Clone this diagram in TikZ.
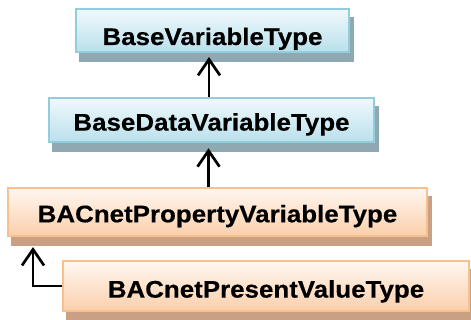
\documentclass[tikz,border=0pt]{standalone}
\usepackage{fontspec}
\setmainfont{Liberation Sans}
\newfontfamily\typefont[FakeStretch=1.08,FakeBold=0.4]{Liberation Sans Bold}
\usetikzlibrary{arrows.meta,calc,backgrounds}

\definecolor{blueEdge}{HTML}{93CDDD}
\definecolor{blueTop}{HTML}{F0F9FC}
\definecolor{blueBot}{HTML}{B9E0EC}
\definecolor{blueShade}{HTML}{8EA9B1}
\definecolor{orgEdge}{HTML}{F9C08F}
\definecolor{orgTop}{HTML}{FFF7F1}
\definecolor{orgBot}{HTML}{FBCFAB}
\definecolor{orgShade}{HTML}{C9A084}

\tikzset{
  typebox/.style={draw, line width=2pt, inner sep=0pt, text depth=0pt,
    font=\fontsize{24}{29}\typefont, text=black},
  basebox/.style={typebox, draw=blueEdge, top color=blueTop, bottom color=blueBot},
  bacbox/.style={typebox, draw=orgEdge, top color=orgTop, bottom color=orgBot},
  inherit/.style={line width=2.7pt, -{Straight Barb[length=16pt,width=22pt,line width=2.7pt]}},
}

% flat shadow offset to the lower right of a box
\newcommand{\boxshadow}[2]{%
  \fill[#2] ($(#1.south west)+(3.5,9)$) rectangle ($(#1.north east)+(3.5,9)$);}

\begin{document}
\begin{tikzpicture}[x=1pt,y=-1pt]
  \useasboundingbox (0,0) rectangle (471,320);

  \node[basebox, minimum width=273pt, minimum height=43pt, text height=29pt] (b1) at (212.5,30.5) {BaseVariableType};
  \node[basebox, minimum width=325pt, minimum height=44.6pt, text height=21.2pt] (b2) at (211.5,120) {BaseDataVariableType};
  \node[bacbox, minimum width=419pt, minimum height=48.3pt, text height=20.8pt] (b3) at (217.5,211.9) {BACnetPropertyVariableType};
  \node[bacbox, minimum width=406pt, minimum height=49.7pt, text height=23.2pt] (b4) at (266,286) {BACnetPresentValueType};

  \begin{scope}[on background layer]
    \boxshadow{b1}{blueShade}
    \boxshadow{b2}{blueShade}
    \boxshadow{b3}{orgShade}
    \boxshadow{b4}{orgShade}
  \end{scope}

  % generalisation connectors
  \coordinate (t1) at ($(b1.south)+(-3.5,4)$);
  \coordinate (t2) at ($(b2.south)+(-3,5)$);
  \coordinate (t3) at ($(b3.south west)+(26,10)$);

  \draw[inherit] (b2.north -| t1) -- (t1);
  \draw[inherit] (b3.north -| t2) -- (t2);
  \draw[inherit] (b4.west) -| (t3);
\end{tikzpicture}
\end{document}
